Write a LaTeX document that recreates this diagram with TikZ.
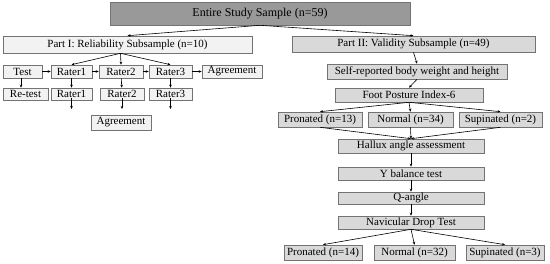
\documentclass[tikz,border=0pt]{standalone}
\usepackage{fontspec}
\setmainfont{Liberation Serif}
\usetikzlibrary{arrows.meta}

\tikzset{
  box/.style={draw=black!55, line width=0.6pt, inner sep=0pt, font=\fontsize{11}{12}\selectfont},
  lbox/.style={box, fill=black!5},
  rbox/.style={box, fill=black!15},
  link/.style={->, line width=0.6pt},
}

\begin{document}
\begin{tikzpicture}[x=1pt,y=-1pt,>={Stealth[length=3pt,width=2.6pt]}]
  \useasboundingbox (0,0) rectangle (550,264);
  % Top
  \node[box, fill=black!40, minimum width=300pt, minimum height=23pt, font=\fontsize{12}{14}\selectfont] (all) at (260,13.5) {Entire Study Sample (n=59)};
  \node[lbox, minimum width=249pt, minimum height=17pt] (partA) at (127.5,44.5) {Part I: Reliability Subsample (n=10)};
  \node[rbox, minimum width=243pt, minimum height=16pt] (partB) at (413.5,44) {Part II: Validity Subsample (n=49)};
  \draw[link] (all.south) -- (partA.north);
  \draw[link] (all.south) -- (partB.north);
  % Reliability part
  \node[lbox, minimum width=39pt, minimum height=13pt] (test) at (22.5,71.5) {Test};
  \node[lbox, minimum width=41pt, minimum height=13pt] (raterA1) at (71.5,71.5) {Rater1};
  \node[lbox, minimum width=44pt, minimum height=13pt] (raterB1) at (121,71.5) {Rater2};
  \node[lbox, minimum width=43pt, minimum height=13pt] (raterC1) at (170.5,71.5) {Rater3};
  \node[lbox, minimum width=60pt, minimum height=13pt] (agreeA) at (232,71.5) {Agreement};
  \node[lbox, minimum width=45pt, minimum height=12pt] (retest) at (25.5,94) {Re-test};
  \node[lbox, minimum width=41pt, minimum height=12pt] (raterA2) at (71.5,94) {Rater1};
  \node[lbox, minimum width=44pt, minimum height=12pt] (raterB2) at (122,94) {Rater2};
  \node[lbox, minimum width=43pt, minimum height=12pt] (raterC2) at (170.5,94) {Rater3};
  \node[lbox, minimum width=60pt, minimum height=15pt] (agreeB) at (121,122.5) {Agreement};
  \coordinate (endA) at (71.5,109);
  \coordinate (endB) at (122,109);
  \coordinate (endC) at (170.5,109);
  \foreach \r in {raterA1,raterB1,raterC1}
    \draw[link] ([xshift=-7pt]partA.south) -- (\r.north);
  \draw[link] (test) -- (raterA1);
  \draw[link] (raterA1) -- (raterB1);
  \draw[link] (raterB1) -- (raterC1);
  \draw[link] (raterC1) -- (agreeA);
  \draw[link] ([xshift=-1.5pt]test.south) -- ([xshift=-1.5pt]test.south |- retest.north);
  \draw[link] (raterA1) -- (raterA2);
  \draw[link] (raterB1) -- (raterB2);
  \draw[link] (raterC1) -- (raterC2);
  \draw[link] ([yshift=2pt]raterA2.south) -- (endA);
  \draw[link] ([yshift=2pt]raterB2.south) -- (endB);
  \draw[link] ([yshift=2pt]raterC2.south) -- (endC);
  % Validity part
  \node[rbox, minimum width=180pt, minimum height=15pt] (self) at (417,71.5) {Self-reported body weight and height};
  \node[rbox, minimum width=148pt, minimum height=14pt] (fpi) at (409,95) {Foot Posture Index-6};
  \node[rbox, minimum width=84pt, minimum height=15pt] (pronA) at (320,119.5) {Pronated (n=13)};
  \node[rbox, minimum width=85pt, minimum height=15pt] (normA) at (410.5,119.5) {Normal (n=34)};
  \node[rbox, minimum width=83pt, minimum height=15pt] (supA) at (500.5,119.5) {Supinated (n=2)};
  \node[rbox, minimum width=146pt, minimum height=14pt] (hallux) at (411,146) {Hallux angle assessment};
  \node[rbox, minimum width=146pt, minimum height=13pt] (ybal) at (411,173.5) {Y balance test};
  \node[rbox, minimum width=146pt, minimum height=12pt] (qang) at (411,198) {Q-angle};
  \node[rbox, minimum width=146pt, minimum height=13pt] (ndt) at (411,222.5) {Navicular Drop Test};
  \node[rbox, minimum width=78pt, minimum height=15pt] (pronB) at (323,252.5) {Pronated (n=14)};
  \node[rbox, minimum width=81pt, minimum height=15pt] (normB) at (414.5,252.5) {Normal (n=32)};
  \node[rbox, minimum width=78pt, minimum height=15pt] (supB) at (505,252.5) {Supinated (n=3)};
  \draw[link] (partB.south) -- (self.north);
  \draw[link] (self.south) -- (fpi.north);
  \foreach \g in {pronA,normA,supA}{
    \draw[link] (fpi.south) -- (\g.north);
    \draw[link] (\g.south) -- (hallux.north);
  }
  \draw[link] (hallux) -- (ybal);
  \draw[link] (ybal) -- (qang);
  \draw[link] (qang) -- (ndt);
  \foreach \g in {pronB,normB,supB}
    \draw[link] (ndt.south) -- (\g.north);
\end{tikzpicture}
\end{document}
